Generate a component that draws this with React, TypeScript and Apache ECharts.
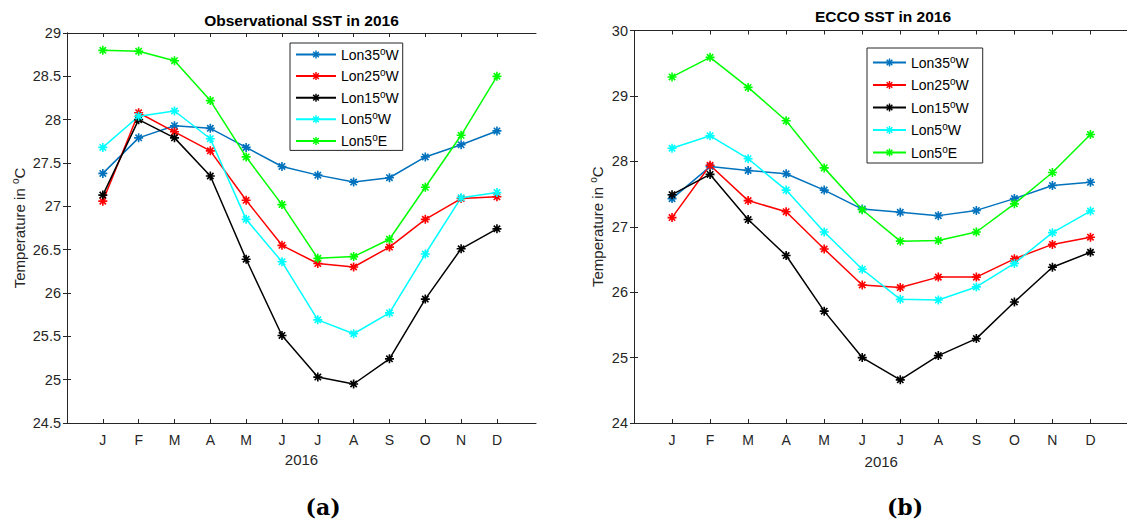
import React, { useEffect, useRef } from "react";
import * as echarts from "echarts";

// ---------- data ----------
const months = ["J", "F", "M", "A", "M", "J", "J", "A", "S", "O", "N", "D"];
const monthIndex = [1, 2, 3, 4, 5, 6, 7, 8, 9, 10, 11, 12];
const seriesNames = ["Lon35°W", "Lon25°W", "Lon15°W", "Lon5°W", "Lon5°E"];
const seriesColors = ["#0072BD", "#FF0000", "#000000", "#00FFFF", "#00FF00"];

const obsLon35W = [27.38, 27.79, 27.93, 27.9, 27.68, 27.46, 27.36, 27.28, 27.33, 27.57, 27.71, 27.87];
const obsLon25W = [27.06, 28.08, 27.86, 27.64, 27.07, 26.55, 26.34, 26.3, 26.53, 26.85, 27.09, 27.11];
const obsLon15W = [27.13, 28.0, 27.79, 27.35, 26.39, 25.51, 25.03, 24.95, 25.24, 25.93, 26.51, 26.74];
const obsLon5W = [27.68, 28.04, 28.1, 27.78, 26.85, 26.36, 25.69, 25.53, 25.77, 26.45, 27.1, 27.16];
const obsLon5E = [28.8, 28.79, 28.68, 28.22, 27.57, 27.02, 26.4, 26.42, 26.62, 27.22, 27.82, 28.5];

const eccoLon35W = [27.43, 27.92, 27.86, 27.81, 27.56, 27.27, 27.22, 27.17, 27.25, 27.43, 27.63, 27.68];
const eccoLon25W = [27.14, 27.94, 27.4, 27.23, 26.66, 26.11, 26.07, 26.23, 26.23, 26.51, 26.73, 26.84];
const eccoLon15W = [27.49, 27.8, 27.11, 26.56, 25.71, 25.0, 24.66, 25.03, 25.29, 25.85, 26.38, 26.61];
const eccoLon5W = [28.2, 28.39, 28.04, 27.56, 26.92, 26.35, 25.89, 25.88, 26.08, 26.44, 26.91, 27.24];
const eccoLon5E = [29.29, 29.59, 29.13, 28.62, 27.9, 27.26, 26.78, 26.79, 26.92, 27.35, 27.83, 28.41];

const obsSeries = [obsLon35W, obsLon25W, obsLon15W, obsLon5W, obsLon5E];
const eccoSeries = [eccoLon35W, eccoLon25W, eccoLon15W, eccoLon5W, eccoLon5E];

const titles = ["Observational SST in 2016", "ECCO SST in 2016"];
const captions = ["(a)", "(b)"];
const xName = "2016";
const yName = "Temperature in {s|o}C";

// ---------- styling ----------
const FONT = "'Liberation Sans', Arial, Helvetica, sans-serif";
const AXIS_COLOR = "#262626";

function asteriskPath(): string {
  const L = 10;
  const w = 1.8;
  let d = "";
  for (const deg of [0, 45, 90, 135]) {
    const t = (deg * Math.PI) / 180;
    const dx = Math.cos(t);
    const dy = Math.sin(t);
    const nx = -dy;
    const ny = dx;
    const pts = [
      [L * dx + w * nx, L * dy + w * ny],
      [-L * dx + w * nx, -L * dy + w * ny],
      [-L * dx - w * nx, -L * dy - w * ny],
      [L * dx - w * nx, L * dy - w * ny],
    ];
    d += "M" + pts.map((p) => p[0].toFixed(3) + " " + p[1].toFixed(3)).join(" L") + " Z ";
  }
  return "path://" + d;
}
const STAR = asteriskPath();

const supRich = { s: { fontSize: 10, lineHeight: 10, verticalAlign: "top", fontFamily: FONT } };

function makeXAxes(gridIndex: number, max: number, nameGap: number) {
  const line = { show: true, lineStyle: { color: AXIS_COLOR, width: 1 } };
  const tick = { show: true, inside: true, length: 4, customValues: monthIndex, lineStyle: { color: AXIS_COLOR, width: 1 } };
  return [
    {
      type: "value",
      gridIndex,
      position: "bottom",
      min: 0,
      max,
      name: xName,
      nameLocation: "middle",
      nameGap,
      nameTextStyle: { fontFamily: FONT, fontSize: 15, color: AXIS_COLOR },
      axisLine: line,
      axisTick: tick,
      axisLabel: {
        customValues: monthIndex,
        formatter: (v: number) => months[Math.round(v) - 1] ?? "",
        margin: 10,
        fontFamily: FONT,
        fontSize: 14,
        color: AXIS_COLOR,
      },
      splitLine: { show: false },
    },
    {
      type: "value",
      gridIndex,
      position: "top",
      min: 0,
      max,
      axisLine: line,
      axisTick: tick,
      axisLabel: { show: false },
      splitLine: { show: false },
    },
  ];
}

function makeYAxes(gridIndex: number, min: number, max: number, interval: number, nameGap: number) {
  const line = { show: true, lineStyle: { color: AXIS_COLOR, width: 1 } };
  const tick = { show: true, inside: true, length: 4, lineStyle: { color: AXIS_COLOR, width: 1 } };
  return [
    {
      type: "value",
      gridIndex,
      position: "left",
      min,
      max,
      interval,
      name: yName,
      nameLocation: "middle",
      nameRotate: 90,
      nameGap,
      nameTextStyle: { fontFamily: FONT, fontSize: 15, lineHeight: 18, color: AXIS_COLOR, rich: supRich },
      axisLine: line,
      axisTick: tick,
      axisLabel: { margin: 6, fontFamily: FONT, fontSize: 14.5, color: AXIS_COLOR },
      splitLine: { show: false },
    },
    {
      type: "value",
      gridIndex,
      position: "right",
      min,
      max,
      interval,
      axisLine: line,
      axisTick: tick,
      axisLabel: { show: false },
      splitLine: { show: false },
    },
  ];
}

function makeSeries(values: number[][], axisIndex: number) {
  return values.map((vals, i) => ({
    type: "line",
    name: seriesNames[i],
    xAxisIndex: axisIndex,
    yAxisIndex: axisIndex,
    data: monthIndex.map((m, j) => [m, vals[j]]),
    symbol: STAR,
    symbolSize: 9,
    showSymbol: true,
    lineStyle: { width: 1.5, color: seriesColors[i] },
    itemStyle: { color: seriesColors[i] },
    emphasis: { disabled: true },
    silent: true,
  }));
}

function makeLegend(left: number, top: number, itemWidth: number, itemGap: number, padding: number[]) {
  return {
    orient: "vertical",
    left,
    top,
    data: seriesNames,
    backgroundColor: "#ffffff",
    borderColor: AXIS_COLOR,
    borderWidth: 1,
    padding,
    itemWidth,
    itemHeight: 10,
    itemGap,
    selectedMode: false,
    formatter: (name: string) => name.replace("°", "{s|o}"),
    textStyle: { fontFamily: FONT, fontSize: 14, lineHeight: 17, color: "#000", rich: supRich },
  };
}

export default function App() {
  const ref = useRef<HTMLDivElement>(null);

  useEffect(() => {
    if (!ref.current) return;
    const chart = echarts.init(ref.current, undefined, { renderer: "svg" });
    const option = {
      animation: false,
      backgroundColor: "#ffffff",
      grid: [
        { left: 67, top: 33, width: 469, height: 390, outerBoundsMode: "none", containLabel: false },
        { left: 634, top: 30.5, width: 494.5, height: 392.5, outerBoundsMode: "none", containLabel: false },
      ],
      xAxis: [...makeXAxes(0, 13.09, 29), ...makeXAxes(1, 13, 31)],
      yAxis: [...makeYAxes(0, 24.5, 29, 0.5, 38), ...makeYAxes(1, 24, 30, 1, 28)],
      legend: [
        makeLegend(290, 43, 40, 4.6, [3, 4, 1, 5]),
        makeLegend(867, 48, 33, 5.5, [6, 14, 2, 5]),
      ],
      series: [...makeSeries(obsSeries, 0), ...makeSeries(eccoSeries, 2)],
      graphic: [
        {
          type: "text",
          x: 301.5,
          y: 20,
          style: { text: titles[0], fontFamily: FONT, fontSize: 15.5, fontWeight: "bold", fill: "#000", align: "center", verticalAlign: "middle" },
        },
        {
          type: "text",
          x: 883,
          y: 16,
          style: { text: titles[1], fontFamily: FONT, fontSize: 15.5, fontWeight: "bold", fill: "#000", align: "center", verticalAlign: "middle" },
        },
        {
          type: "text",
          x: 323,
          y: 507,
          style: { text: captions[0], fontFamily: "'DejaVu Serif', serif", fontSize: 22, fontWeight: "bold", fill: "#000", align: "center", verticalAlign: "middle" },
        },
        {
          type: "text",
          x: 905,
          y: 507,
          style: { text: captions[1], fontFamily: "'DejaVu Serif', serif", fontSize: 22, fontWeight: "bold", fill: "#000", align: "center", verticalAlign: "middle" },
        },
      ],
    };
    chart.setOption(option as any);
    return () => chart.dispose();
  }, []);

  return (
    <div
      ref={ref}
      style={{ position: "absolute", left: 0, top: 0, width: 1127, height: 523, background: "#fff" }}
    />
  );
}
